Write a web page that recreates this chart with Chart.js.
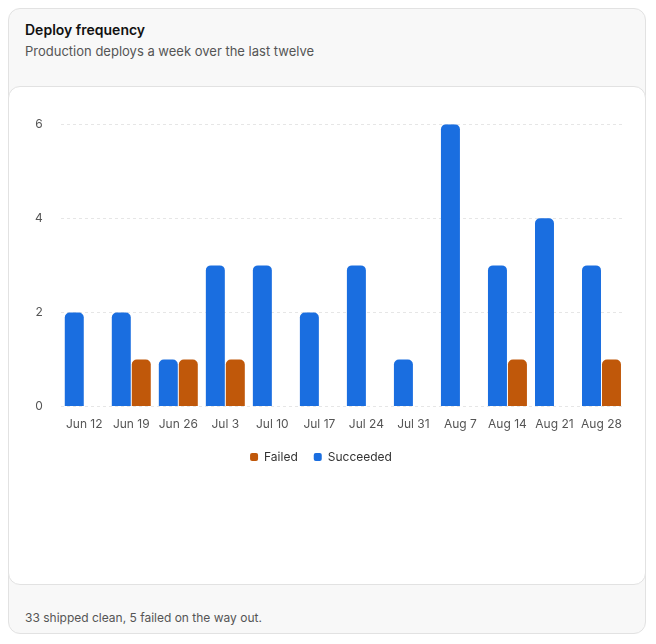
<!DOCTYPE html>
<html>
<head>
<meta charset="utf-8">
<script src="https://cdn.jsdelivr.net/npm/chart.js@4"></script>
<style>
  body { margin: 0; background: #fff; font-family: Inter, sans-serif; }
  .card { position: absolute; left: 8px; top: 8px; width: 638px; height: 626px; background: #f8f8f8;
          border: 1px solid #e2e2e2; border-radius: 12px; box-sizing: border-box; }
  .title { position: absolute; left: 16px; top: 12px; font-size: 14px; font-weight: 600; color: #111; }
  .sub { position: absolute; left: 16px; top: 34px; font-size: 13px; color: #555; }
  .panel { position: absolute; left: -1px; top: 77px; width: 638px; height: 499px; background: #fff;
           border: 1px solid #e2e2e2; border-radius: 12px; box-sizing: border-box; }
  .wrap { position: absolute; left: 8px; top: 12px; width: 614px; height: 374px; }
  .foot { position: absolute; left: 16px; top: 601px; font-size: 12px; color: #555; }
</style>
</head>
<body>
<div class="card">
  <div class="title">Deploy frequency</div>
  <div class="sub">Production deploys a week over the last twelve</div>
  <div class="panel"><div class="wrap"><canvas id="c"></canvas></div></div>
  <div class="foot">33 shipped clean, 5 failed on the way out.</div>
</div>
<script>
const weeks = ['Jun 12','Jun 19','Jun 26','Jul 3','Jul 10','Jul 17','Jul 24','Jul 31','Aug 7','Aug 14','Aug 21','Aug 28'];
const succeeded = [2,2,1,3,3,2,3,1,6,3,4,3];
const failed = [0,1,1,1,0,0,0,0,0,1,0,1];
const yTicks = [0,2,4,6];

new Chart('c', {
  type: 'bar',
  data: {
    labels: weeks,
    datasets: [
      { label: 'Succeeded', data: succeeded, backgroundColor: '#1a6ee0', borderRadius: 5, borderSkipped: 'bottom',
        categoryPercentage: 0.85, barPercentage: 0.95 },
      { label: 'Failed', data: failed, backgroundColor: '#c0580a', borderRadius: 5, borderSkipped: 'bottom',
        categoryPercentage: 0.85, barPercentage: 0.95 }
    ]
  },
  options: {
    maintainAspectRatio: false,
    animation: false,
    layout: { padding: { top: 0, right: 6 } },
    scales: {
      x: {
        grid: { display: false },
        border: { display: false },
        ticks: { color: '#555', maxRotation: 0, minRotation: 0, autoSkip: false, font: { family: 'Inter', size: 12 } }
      },
      y: {
        min: 0, max: 6,
        afterBuildTicks: axis => { axis.ticks = yTicks.map(v => ({ value: v })); },
        grid: { color: '#e6e6e6', drawTicks: false },
        border: { display: false, dash: [3, 3] },
        ticks: { color: '#555', padding: 18, font: { family: 'Inter', size: 12 } }
      }
    },
    plugins: {
      legend: {
        position: 'bottom', reverse: true,
        labels: { boxWidth: 8, boxHeight: 8, useBorderRadius: true, borderRadius: 2, color: '#333',
                  padding: 16, font: { family: 'Inter', size: 12 } }
      },
      tooltip: { enabled: false }
    }
  }
});
</script>
</body>
</html>
